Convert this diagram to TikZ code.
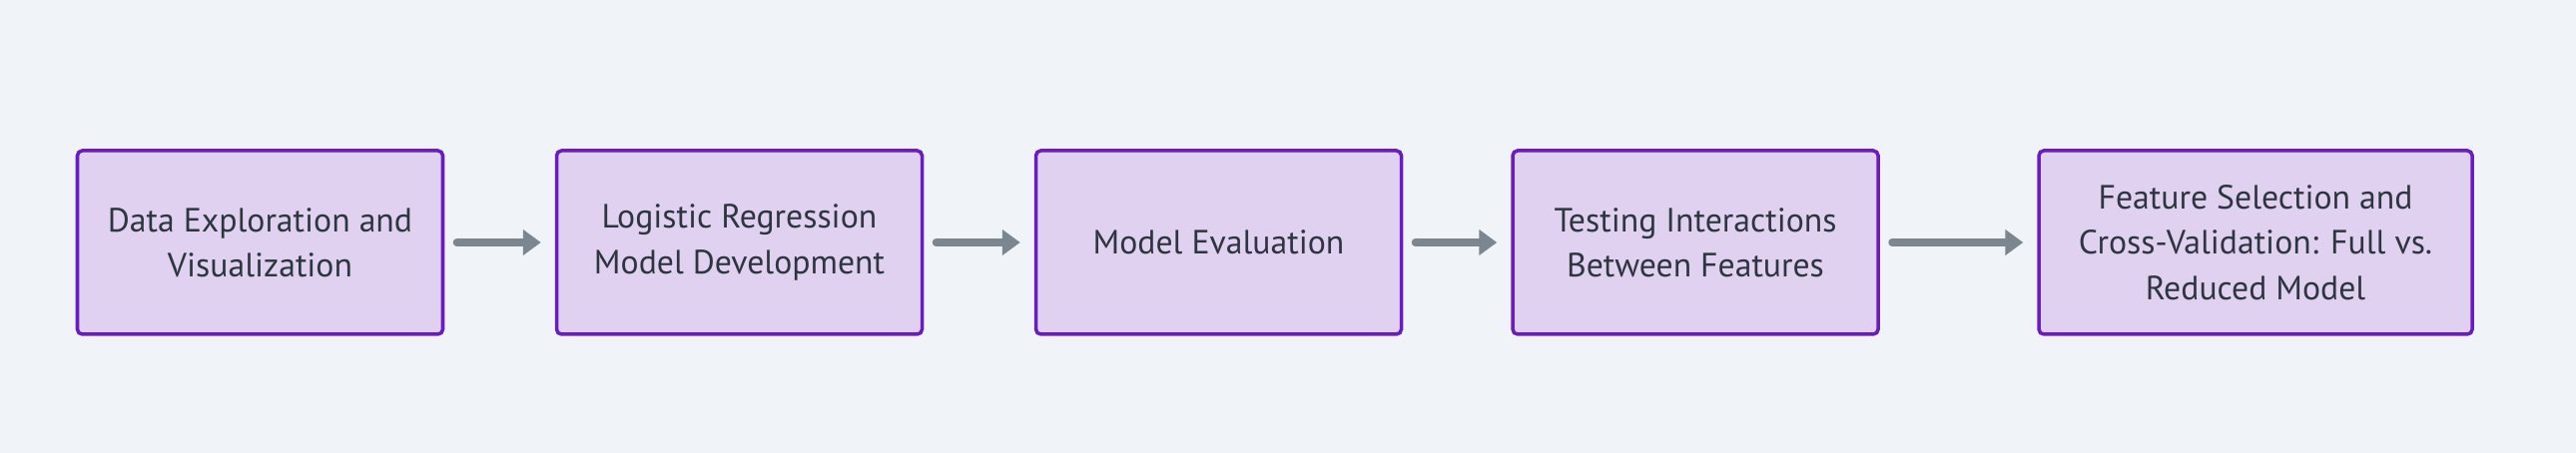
\documentclass[tikz,border=0pt]{standalone}
\usepackage{fontspec}
\setmainfont{PT Sans}
\usetikzlibrary{positioning,arrows.meta}

\definecolor{bgcol}{HTML}{F0F4F8}
\definecolor{boxfill}{HTML}{E0D1F1}
\definecolor{boxline}{HTML}{6A1CC0}
\definecolor{txtcol}{HTML}{2D3540}
\definecolor{arrcol}{HTML}{7C8691}

\tikzstyle{stage} = [draw=boxline, fill=boxfill, line width=1pt, rounded corners=1.4pt,
    minimum width=3.66cm, minimum height=1.84cm, align=center, text=txtcol,
    font=\fontsize{9.6}{12.9}\selectfont]
\tikzstyle{flow} = [draw=arrcol, line width=2pt, line cap=round,
    -{Triangle[length=0.18cm, width=0.25cm]}, shorten <=0.12cm, shorten >=0.14cm]

\begin{document}
\begin{tikzpicture}
\fill[bgcol] (0,0) rectangle (25.8,4.54);
\useasboundingbox (0,0) rectangle (25.8,4.54);

\node[stage] (explore) at (2.605,2.11) {Data Exploration and\\Visualization};
\node[stage, right=1.105cm of explore] (logit) {Logistic Regression\\Model Development};
\node[stage, right=1.105cm of logit] (evaluate) {Model Evaluation};
\node[stage, right=1.08cm of evaluate] (interact) {Testing Interactions\\Between Features};
\node[stage, right=1.575cm of interact, minimum width=4.34cm] (select)
    {Feature Selection and\\Cross-Validation: Full vs.\\Reduced Model};

% arrows between the stages
\draw[flow] (explore) -- (logit);
\draw[flow] (logit) -- (evaluate);
\draw[flow] (evaluate) -- (interact);
\draw[flow] (interact) -- (select);
\end{tikzpicture}
\end{document}
